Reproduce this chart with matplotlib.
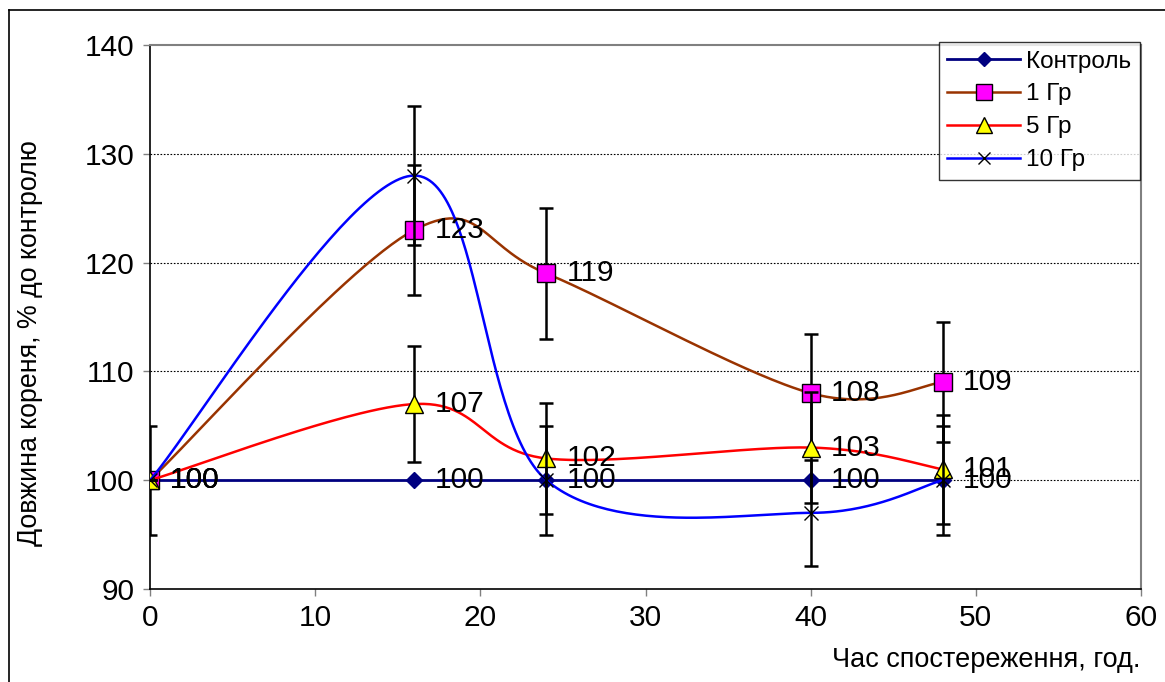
import numpy as np
import matplotlib
matplotlib.use("Agg")
import matplotlib.pyplot as plt
from matplotlib.lines import Line2D

plt.rcParams['font.family'] = ['Liberation Sans', 'DejaVu Sans']

# ---- data ----
hours = [0, 16, 24, 40, 48]
series_names = ["Контроль", "1 Гр", "5 Гр", "10 Гр"]
control = [100, 100, 100, 100, 100]
gr1 = [100, 123, 119, 108, 109]
gr5 = [100, 107, 102, 103, 101]
gr10 = [100, 128, 100, 97, 100]
control_err = [5, 0, 0, 0, 0]
gr1_err = [0, 6, 6, 5.4, 5.5]
gr5_err = [0, 5.3, 5.1, 5.1, 5]
gr10_err = [0, 6.4, 5, 4.9, 5]
show_labels = [True, True, True, False]
x_ticks = [0, 10, 20, 30, 40, 50, 60]
y_ticks = [90, 100, 110, 120, 130, 140]
x_label = "Час спостереження, год."
y_label = "Довжина кореня, % до контролю"


def excel_smooth(xs, ys, n=60):
    pts = np.column_stack([xs, ys]).astype(float)
    m = len(pts)
    out = []
    t = np.linspace(0, 1, n)[:, None]
    for i in range(m - 1):
        p0 = pts[i - 1] if i > 0 else pts[i]
        p1 = pts[i]
        p2 = pts[i + 1]
        p3 = pts[i + 2] if i + 2 < m else pts[i + 1]
        c1 = p1 + (p2 - p0) / 6.0
        c2 = p2 - (p3 - p1) / 6.0
        seg = ((1 - t) ** 3) * p1 + 3 * ((1 - t) ** 2) * t * c1 + 3 * (1 - t) * t ** 2 * c2 + t ** 3 * p2
        out.append(seg if i == 0 else seg[1:])
    s = np.vstack(out)
    return s[:, 0], s[:, 1]


W, H = 1165, 682
fig = plt.figure(figsize=(W / 100, H / 100), dpi=100)
ax = fig.add_axes([150 / W, 1 - 589 / H, (1141 - 150) / W, (589 - 45) / H])

styles = [
    dict(color="#000080", marker="D", ms=8.5, mfc="#000080", mec="#000080", mew=1, lw=2.0),
    dict(color="#993300", marker="s", ms=13, mfc="#FF00FF", mec="black", mew=1, lw=1.8),
    dict(color="#FF0000", marker="^", ms=13.5, mfc="#FFFF00", mec="black", mew=1, lw=1.8),
    dict(color="#0000FF", marker="x", ms=10.5, mfc="black", mec="black", mew=1, lw=1.8),
]
all_vals = [control, gr1, gr5, gr10]
all_errs = [control_err, gr1_err, gr5_err, gr10_err]

handles = []
for k, (name, vals, errs, st, lab) in enumerate(zip(series_names, all_vals, all_errs, styles, show_labels)):
    z = 3 + k * 3
    sx, sy = excel_smooth(hours, vals)
    ax.plot(sx, sy, color=st["color"], lw=st["lw"], zorder=z, solid_capstyle="round")
    ax.errorbar(hours, vals, yerr=errs, fmt="none", ecolor="black", elinewidth=1.8,
                capsize=5, capthick=1.8, zorder=z + 1)
    ax.plot(hours, vals, linestyle="none", marker=st["marker"], ms=st["ms"],
            mfc=st["mfc"], mec=st["mec"], mew=st["mew"], zorder=z + 2)
    handles.append(Line2D([], [], color=st["color"], lw=st["lw"], marker=st["marker"],
                          ms=st["ms"] * 0.85, mfc=st["mfc"], mec=st["mec"], mew=st["mew"]))
    if lab:
        for xv, yv in zip(hours, vals):
            ax.annotate(f"{yv}", (xv, yv), xytext=(14.5, 0), textcoords="offset points",
                        ha="left", va="center", fontsize=21.5, zorder=20)

ax.set_xlim(0, 60)
ax.set_ylim(90, 140)
ax.set_xticks(x_ticks)
ax.set_yticks(y_ticks)
ax.tick_params(axis="both", labelsize=21.5, direction="out", length=5, width=1,
               color="#808080", pad=6)
for g in [100, 110, 120, 130]:
    ax.axhline(g, color="black", lw=0.8, ls=(0, (1.5, 1.5)), zorder=1)

for side in ["top", "right"]:
    ax.spines[side].set_color("#808080")
    ax.spines[side].set_linewidth(1.5)
for side in ["left", "bottom"]:
    ax.spines[side].set_color("black")
    ax.spines[side].set_linewidth(1.2)

fig.text(30 / W, 1 - 343 / H, y_label, rotation=90, ha="center", va="center", fontsize=19.3)
fig.text(1140 / W, 1 - 660 / H, x_label, ha="right", va="center", fontsize=19.5)

leg = ax.legend(handles, series_names, loc="upper right",
                bbox_to_anchor=(1140 / W, 1 - 42 / H), bbox_transform=fig.transFigure,
                fontsize=17.5, frameon=True, fancybox=False, handlelength=3.0,
                handletextpad=0.25, labelspacing=0.45, borderpad=0.35, borderaxespad=0)
leg.get_frame().set_edgecolor("black")
leg.get_frame().set_linewidth(1)
leg.set_zorder(30)

# figure border (top and left)
fig.add_artist(Line2D([9 / W, 9 / W], [0, 1 - 10 / H], transform=fig.transFigure, color="black", lw=1.2))
fig.add_artist(Line2D([9 / W, 1], [1 - 10 / H, 1 - 10 / H], transform=fig.transFigure, color="black", lw=1.2))

fig.savefig("out.png", dpi=100, facecolor="white")
